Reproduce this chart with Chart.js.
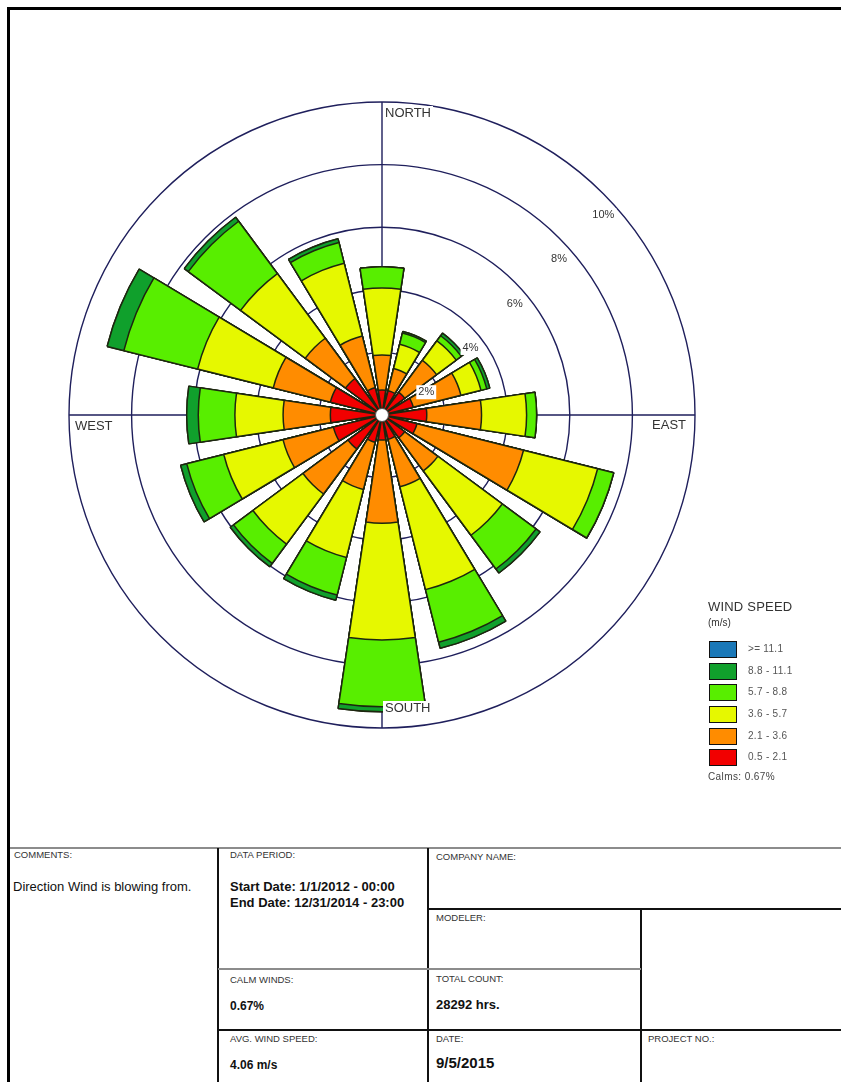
<!DOCTYPE html>
<html>
<head>
<meta charset="utf-8">
<title>Wind Rose</title>
<script src="https://cdn.jsdelivr.net/npm/chart.js@4/dist/chart.umd.min.js"></script>
<style>
  html, body { margin: 0; padding: 0; background: #fff; }
  body {
    width: 841px; height: 1082px; position: relative; overflow: hidden;
    font-family: "Liberation Sans", Arial, Helvetica, sans-serif; color: #222;
  }
  #frame { position: absolute; left: 7px; top: 7px; width: 900px; height: 1200px;
           border-left: 3px solid #000; border-top: 3px solid #000; }
  #roseBox { position: absolute; left: 52px; top: 85px; width: 660px; height: 660px; }
  #legend { position: absolute; left: 708px; top: 599px; width: 130px; color: #333; }
  #legend .title { font-size: 13px; line-height: 15px; letter-spacing: 0.2px; }
  #legend .unit { font-size: 10px; line-height: 12px; margin-top: 3px; }
  #legend .row { position: relative; height: 21.7px; }
  #legend .sw { position: absolute; left: 1px; top: 0; width: 26px; height: 15px; border: 1px solid #111; }
  #legend .lab { position: absolute; left: 40px; top: 2px; font-size: 10px; line-height: 12px; color: #555; letter-spacing: 0.3px; }
  #legend .calm { font-size: 10px; line-height: 12px; color: #444; letter-spacing: 0.4px; margin-top: 0px; }
  #lgRows { margin-top: 12px; }
  .ln { position: absolute; }
  .cap { position: absolute; font-size: 9.5px; line-height: 11px; color: #333; }
  .txt { position: absolute; font-size: 13px; line-height: 15px; color: #111; }
  .b { font-weight: bold; }
</style>
</head>
<body>
<div id="frame"></div>
<div id="roseBox"><canvas id="rose"></canvas></div>

<div id="legend">
  <div class="title">WIND SPEED</div>
  <div class="unit">(m/s)</div>
  <div id="lgRows"></div>
  <div class="calm" id="calmText"></div>
</div>

<!-- info block -->
<div class="ln" style="left:10px;top:847px;width:831px;height:2px;background:#8c8c8c"></div>
<div class="ln" style="left:217px;top:848px;width:2px;height:240px;background:#111"></div>
<div class="ln" style="left:427px;top:848px;width:2px;height:240px;background:#111"></div>
<div class="ln" style="left:428px;top:908px;width:413px;height:2px;background:#111"></div>
<div class="ln" style="left:640px;top:909px;width:2px;height:180px;background:#111"></div>
<div class="ln" style="left:218px;top:968px;width:423px;height:2px;background:#8c8c8c"></div>
<div class="ln" style="left:218px;top:1029px;width:623px;height:2px;background:#111"></div>

<div class="cap" style="left:14px;top:849px">COMMENTS:</div>
<div class="txt" style="left:13px;top:879px">Direction Wind is blowing from.</div>

<div class="cap" style="left:230px;top:849px">DATA PERIOD:</div>
<div class="txt b" style="left:230px;top:879px">Start Date: 1/1/2012 - 00:00</div>
<div class="txt b" style="left:230px;top:895px">End Date: 12/31/2014 - 23:00</div>
<div class="cap" style="left:230px;top:974px">CALM WINDS:</div>
<div class="txt b" id="calmCell" style="left:230px;top:999px;font-size:12px;line-height:14px"></div>
<div class="cap" style="left:230px;top:1033px">AVG. WIND SPEED:</div>
<div class="txt b" style="left:230px;top:1058px;font-size:12px;line-height:14px">4.06 m/s</div>

<div class="cap" style="left:436px;top:851px">COMPANY NAME:</div>
<div class="cap" style="left:436px;top:912px">MODELER:</div>
<div class="cap" style="left:436px;top:973px">TOTAL COUNT:</div>
<div class="txt b" style="left:436px;top:997px;font-size:13px;line-height:15px">28292 hrs.</div>
<div class="cap" style="left:436px;top:1033px">DATE:</div>
<div class="txt b" style="left:436px;top:1054px;font-size:15px;line-height:17px">9/5/2015</div>
<div class="cap" style="left:648px;top:1033px">PROJECT NO.:</div>

<script>
// Sixteen compass sectors, clockwise from north
const directions = ['N', 'NNE', 'NE', 'ENE', 'E', 'ESE', 'SE', 'SSE',
                    'S', 'SSW', 'SW', 'WSW', 'W', 'WNW', 'NW', 'NNW'];

// Frequency (% of all hours) per sector for each wind speed class (m/s)
const spd0521  = [0.80, 0.80, 0.90, 1.03, 1.43, 1.15, 0.90, 0.80, 0.80, 0.90, 1.35, 1.60, 1.65, 1.70, 1.45, 0.90];
const spd2136  = [1.12, 0.73, 1.27, 1.57, 1.75, 3.51, 1.32, 1.56, 2.66, 1.55, 1.79, 1.66, 1.51, 1.88, 1.60, 1.70];
const spd3657  = [2.14, 0.80, 0.78, 0.66, 1.44, 2.44, 2.56, 3.39, 3.73, 2.24, 1.99, 1.95, 1.54, 2.49, 2.57, 2.40];
const spd5788  = [0.68, 0.37, 0.20, 0.19, 0.32, 0.53, 1.34, 1.73, 2.13, 1.24, 0.77, 1.22, 1.17, 2.43, 2.08, 0.68];
const spd88111 = [0.00, 0.05, 0.10, 0.10, 0.00, 0.00, 0.16, 0.20, 0.16, 0.17, 0.13, 0.20, 0.37, 0.55, 0.16, 0.12];
const spd111up = [0.00, 0.00, 0.00, 0.00, 0.00, 0.00, 0.00, 0.00, 0.00, 0.00, 0.00, 0.00, 0.00, 0.00, 0.00, 0.00];

const speedClasses = ['0.5 - 2.1', '2.1 - 3.6', '3.6 - 5.7', '5.7 - 8.8', '8.8 - 11.1', '>= 11.1'];
const calmPercent = 0.67;

// Radial axis rings (%)
const ringTicks = [2, 4, 6, 8, 10];
const compassLabels = ['NORTH', 'EAST', 'SOUTH', 'WEST'];

// Styling
const classColors = ['#f20000', '#ff8c00', '#e6f800', '#58ee00', '#10a02c', '#1a78b8'];
const BAR_DEG = 17;             // angular width of each sector's bar
const GAP_DEG = 22.5 - BAR_DEG; // empty wedge between neighbouring bars
const GRID = '#1f1f5c';

const classSeries = [spd0521, spd2136, spd3657, spd5788, spd88111, spd111up];

// Stack the classes: each ring of a bar is drawn as a wedge reaching the running total,
// smaller totals painted over larger ones.
const running = directions.map(() => 0);
const datasets = classSeries.map((series, k) => {
  const data = [];
  series.forEach((v, i) => {
    running[i] += v;
    data.push(+running[i].toFixed(3), 0); // bar, then the empty gap slot
  });
  return {
    label: speedClasses[k],
    data,
    backgroundColor: classColors[k],
    borderColor: '#1d260f',
    borderWidth: 1.5,
    angle: (ctx) => (ctx.dataIndex % 2 === 0 ? BAR_DEG : GAP_DEG)
  };
});

const slotLabels = [];
directions.forEach(d => slotLabels.push(d, ''));

function labelWithBox(ctx, text, x, y, align) {
  const w = ctx.measureText(text).width;
  let left = x - w / 2;
  if (align === 'left') left = x;
  if (align === 'right') left = x - w;
  ctx.fillStyle = '#fff';
  ctx.fillRect(left - 2, y - 7, w + 4, 14);
  ctx.fillStyle = '#333';
  ctx.textAlign = 'left';
  ctx.fillText(text, left, y);
}

const roseDecor = {
  id: 'roseDecor',
  beforeDatasetsDraw(chart) {
    const s = chart.scales.r, ctx = chart.ctx;
    const R = s.getDistanceFromCenterForValue(s.max);
    ctx.save();
    ctx.strokeStyle = GRID;
    ctx.lineWidth = 1.4;
    ctx.beginPath();
    ctx.moveTo(s.xCenter - R, s.yCenter); ctx.lineTo(s.xCenter + R, s.yCenter);
    ctx.moveTo(s.xCenter, s.yCenter - R); ctx.lineTo(s.xCenter, s.yCenter + R);
    ctx.stroke();
    ctx.restore();
  },
  afterDatasetsDraw(chart) {
    const s = chart.scales.r, ctx = chart.ctx;
    const cx = s.xCenter, cy = s.yCenter;
    const R = s.getDistanceFromCenterForValue(s.max);
    ctx.save();
    // calm hole in the middle
    ctx.beginPath();
    ctx.arc(cx, cy, 6.5, 0, Math.PI * 2);
    ctx.fillStyle = '#fff';
    ctx.fill();
    ctx.lineWidth = 1;
    ctx.strokeStyle = '#555';
    ctx.stroke();

    ctx.textBaseline = 'middle';
    // ring labels along the north-east diagonal
    ctx.font = '11px "Liberation Sans", Arial, sans-serif';
    s.ticks.forEach(t => {
      if (!ringTicks.includes(t.value)) return;
      const r = s.getDistanceFromCenterForValue(t.value);
      const x = cx + r * Math.SQRT1_2;
      const y = cy - r * Math.SQRT1_2 + 21.5;
      labelWithBox(ctx, t.value + '%', x, y, 'center');
    });

    // compass words
    ctx.font = '13px "Liberation Sans", Arial, sans-serif';
    labelWithBox(ctx, compassLabels[0], cx + 3, cy - R + 11, 'left');
    labelWithBox(ctx, compassLabels[1], cx + R - 9, cy + 10, 'right');
    labelWithBox(ctx, compassLabels[2], cx + 3, cy + R - 20, 'left');
    labelWithBox(ctx, compassLabels[3], cx - R + 6, cy + 11, 'left');
    ctx.restore();
  }
};

new Chart(document.getElementById('rose'), {
  type: 'polarArea',
  data: { labels: slotLabels, datasets },
  options: {
    responsive: true,
    maintainAspectRatio: false,
    animation: false,
    events: [],
    layout: { padding: 17 },
    plugins: { legend: { display: false }, tooltip: { enabled: false } },
    scales: {
      r: {
        min: 0,
        max: 10,
        startAngle: -BAR_DEG / 2,
        ticks: { stepSize: 2, display: false },
        grid: { circular: true, color: GRID, lineWidth: 1.4 },
        angleLines: { display: false },
        pointLabels: { display: false }
      }
    }
  },
  plugins: [roseDecor]
});

// Legend, highest class first
const rows = document.getElementById('lgRows');
for (let k = speedClasses.length - 1; k >= 0; k--) {
  const row = document.createElement('div');
  row.className = 'row';
  row.innerHTML = '<div class="sw" style="background:' + classColors[k] + '"></div>' +
                  '<div class="lab">' + speedClasses[k].replace('>=', '&gt;=') + '</div>';
  rows.appendChild(row);
}
document.getElementById('calmText').textContent = 'Calms: ' + calmPercent.toFixed(2) + '%';
document.getElementById('calmCell').textContent = calmPercent.toFixed(2) + '%';
</script>
</body>
</html>
